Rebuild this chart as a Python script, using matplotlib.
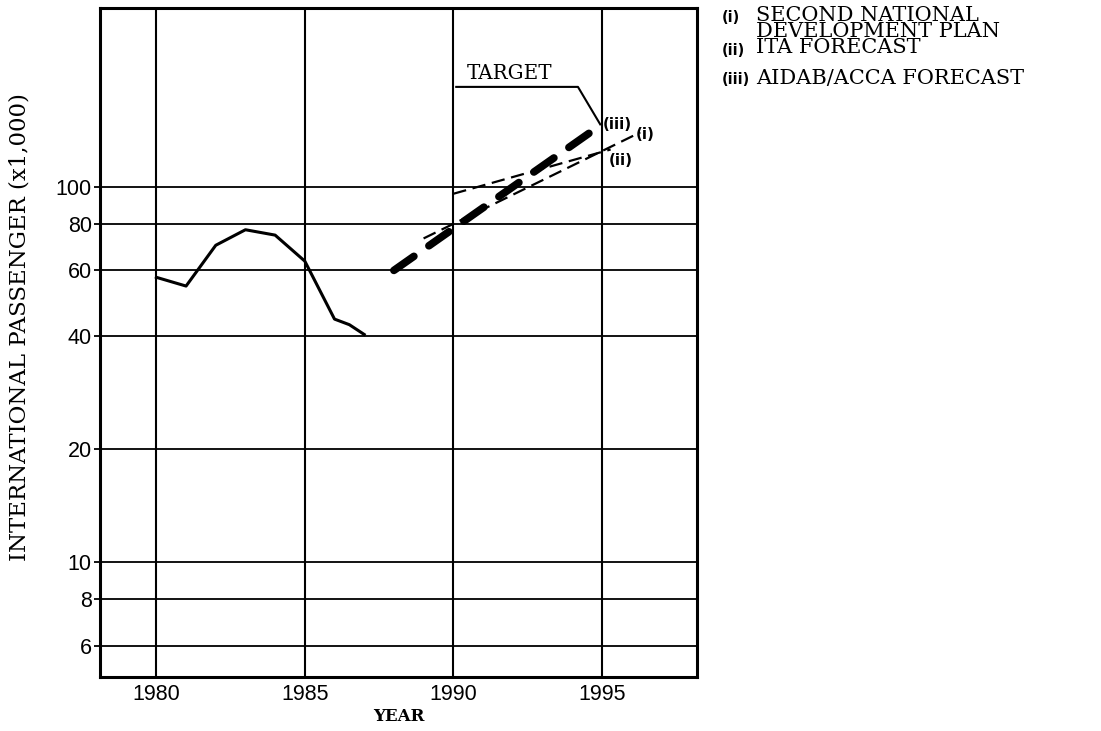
import matplotlib
matplotlib.use("Agg")
import matplotlib.pyplot as plt

# ---- data ----
hist_years = [1980, 1981, 1982, 1983, 1984, 1985, 1986, 1986.5, 1987]
hist_pax = [57.5, 54.5, 70, 77, 74.5, 63.5, 44.5, 43, 40.5]

plan_years = [1989, 1996.3]      # (i) Second National Development Plan
plan_pax = [73, 140]
ita_years = [1990, 1995.3]       # (ii) ITA forecast
ita_pax = [96, 126]
aidab_years = [1988, 1995]       # (iii) AIDAB/ACCA forecast
aidab_pax = [60, 147]

target_year = 1995
target_pax = 147

x_ticks = [1980, 1985, 1990, 1995]
y_ticks = [6, 8, 10, 20, 40, 60, 80, 100]
y_tick_labels = ["6", "8", "10", "20", "40", "60", "80", "100"]

legend_keys = ["(i)", "(ii)", "(iii)"]
legend_texts = ["SECOND NATIONAL\nDEVELOPMENT PLAN", "ITA FORECAST", "AIDAB/ACCA FORECAST"]

serif = "DejaVu Serif"
sans = "Liberation Sans"

fig = plt.figure(figsize=(11.01, 7.31), dpi=100)
ax = fig.add_axes([0.0908, 0.0739, 0.542, 0.915])

ax.set_yscale("log")
ax.set_xlim(1978.1, 1998.2)
ax.set_ylim(4.95, 300)

for x in x_ticks:
    ax.axvline(x, color="black", lw=1.5, zorder=1)
for y in y_ticks:
    ax.axhline(y, color="black", lw=1.3, zorder=1)

ax.plot(hist_years, hist_pax, color="black", lw=2.2, solid_joinstyle="round", zorder=3)
ax.plot(aidab_years, aidab_pax, color="black", lw=5.5, dashes=(3.2, 2.4),
        solid_capstyle="round", dash_capstyle="round", zorder=4)
ax.plot(plan_years, plan_pax, color="black", lw=1.6, dashes=(6, 3), zorder=4)
ax.plot(ita_years, ita_pax, color="black", lw=1.6, dashes=(6, 3), zorder=4)

# line labels
lab_kw = dict(fontsize=11, fontweight="bold", family="DejaVu Sans", ha="left", va="center", zorder=5)
ax.text(1995.05, aidab_pax[1], "(iii)", **lab_kw)
ax.text(1996.15, plan_pax[1] - 2, "(i)", **lab_kw)
ax.text(1995.25, 118, "(ii)", **lab_kw)

# target annotation: underline then leader to the end of the thick line
ax.plot([1990.1, 1994.2, target_year - 0.05], [185, 185, target_pax],
        color="black", lw=1.5, zorder=4)
ax.text(1990.45, 190, "TARGET", family=serif, fontsize=14.3, ha="left", va="bottom")

ax.set_xticks(x_ticks)
ax.set_xticklabels([str(v) for v in x_ticks], family=sans, fontsize=15.5)
ax.set_yticks(y_ticks)
ax.set_yticklabels(y_tick_labels, family=sans, fontsize=15.5)
ax.minorticks_off()
ax.tick_params(axis="y", length=4, width=1.3, pad=2)
ax.tick_params(axis="x", length=0, pad=5)

for s in ax.spines.values():
    s.set_linewidth(2.2)

ax.set_xlabel("YEAR", family=serif, fontsize=12, fontweight="bold", labelpad=2)
ax.set_ylabel("INTERNATIONAL PASSENGER (x1,000)", family=serif, fontsize=16.5)
ax.yaxis.set_label_coords(-0.117, 0.523)

# right-side legend text: the first three lines form one block
key_kw = dict(family="DejaVu Sans", fontsize=10.5, fontweight="bold", va="baseline")
fig.text(722 / 1101, 1 - 22 / 731, legend_keys[0], **key_kw)
fig.text(722 / 1101, 1 - 55 / 731, legend_keys[1], **key_kw)
fig.text(722 / 1101, 1 - 84 / 731, legend_keys[2], **key_kw)
block = legend_texts[0] + "\n" + legend_texts[1]
fig.text(756 / 1101, 1 - 6 / 731, block, family=serif, fontsize=15, va="top",
         linespacing=0.8)
fig.text(756 / 1101, 1 - 84 / 731, legend_texts[2], family=serif, fontsize=15, va="baseline")

fig.savefig("out.png", dpi=100, facecolor="white")
